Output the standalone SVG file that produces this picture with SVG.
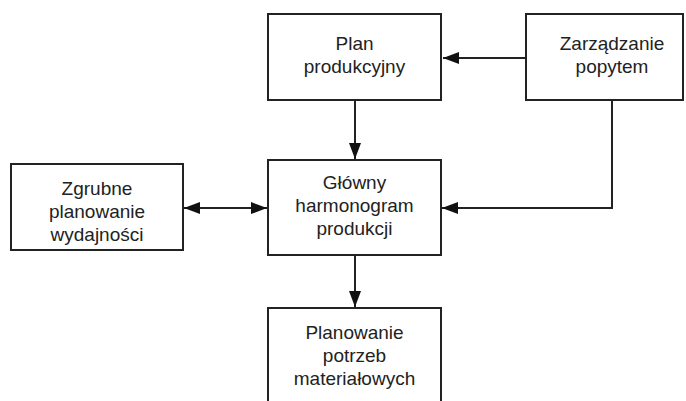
<svg xmlns="http://www.w3.org/2000/svg" width="686" height="401" viewBox="0 0 686 401">
  <style>
    .box { fill: #ffffff; stroke: #222222; stroke-width: 2; }
    .lbl { font-family: "Liberation Sans", Arial, sans-serif; font-size: 19px; fill: #222222; text-anchor: middle; }
    .link { fill: none; stroke: #222222; stroke-width: 2; }
  </style>
  <defs>
    <marker id="arrow" viewBox="0 0 16 12" refX="16" refY="6" markerWidth="16" markerHeight="12" markerUnits="userSpaceOnUse" orient="auto-start-reverse">
      <path d="M0,0 L16,6 L0,12 Z" fill="#111111"/>
    </marker>
  </defs>
  <rect width="686" height="401" fill="#ffffff"/>

  <g id="connectors">
    <path class="link" d="M526,58 H443" marker-end="url(#arrow)"/>
    <path class="link" d="M612,100 V208 H442" marker-end="url(#arrow)"/>
    <path class="link" d="M355,100 V159" marker-end="url(#arrow)"/>
    <path class="link" d="M355,255 V307" marker-end="url(#arrow)"/>
    <path class="link" d="M184,208 H267" marker-start="url(#arrow)" marker-end="url(#arrow)"/>
  </g>

  <g id="plan-produkcyjny">
    <rect class="box" x="268" y="14" width="173" height="86"/>
    <text class="lbl" x="354.5" y="50">Plan</text>
    <text class="lbl" x="354.5" y="72.5">produkcyjny</text>
  </g>

  <g id="zarzadzanie-popytem">
    <rect class="box" x="526" y="14" width="157" height="86"/>
    <text class="lbl" x="612" y="50">Zarządzanie</text>
    <text class="lbl" x="612" y="72.5">popytem</text>
  </g>

  <g id="zgrubne-planowanie">
    <rect class="box" x="11" y="164" width="172" height="86"/>
    <text class="lbl" x="97" y="195">Zgrubne</text>
    <text class="lbl" x="97" y="218">planowanie</text>
    <text class="lbl" x="97" y="240.5">wydajności</text>
  </g>

  <g id="glowny-harmonogram">
    <rect class="box" x="268" y="160" width="173" height="95"/>
    <text class="lbl" x="354.5" y="189">Główny</text>
    <text class="lbl" x="354.5" y="212">harmonogram</text>
    <text class="lbl" x="354.5" y="235">produkcji</text>
  </g>

  <g id="planowanie-potrzeb">
    <rect class="box" x="268" y="308" width="173" height="110"/>
    <text class="lbl" x="354.5" y="339">Planowanie</text>
    <text class="lbl" x="354.5" y="362">potrzeb</text>
    <text class="lbl" x="354.5" y="385">materiałowych</text>
  </g>
</svg>
